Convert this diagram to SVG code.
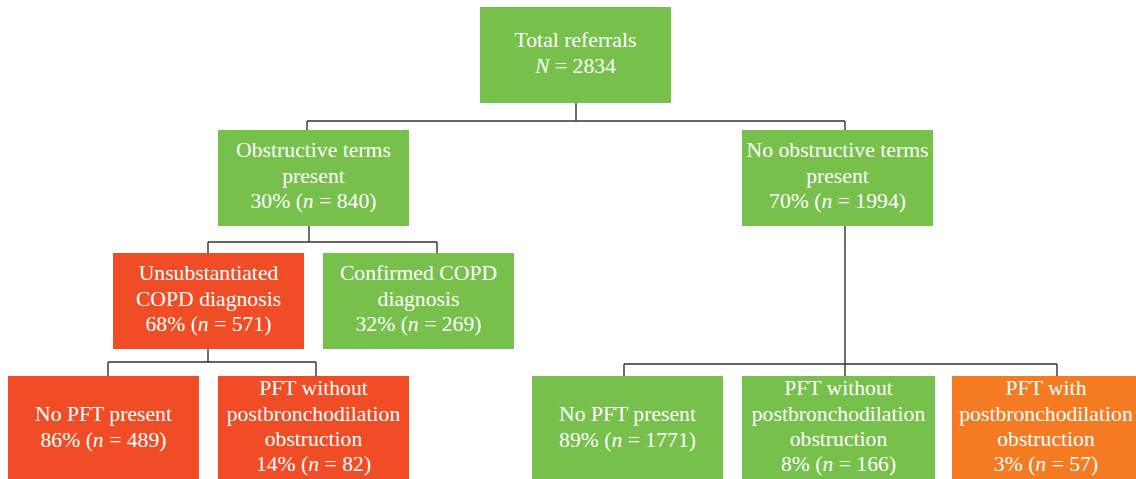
<svg xmlns="http://www.w3.org/2000/svg" width="1136" height="479" viewBox="0 0 1136 479">
<style>
.g{fill:#76c04b}
.r{fill:#f04c26}
.o{fill:#f47b22}
text{font-family:"Liberation Serif","Times New Roman",serif;font-size:21.7px;fill:#ffffff;text-anchor:middle}
.i{font-style:italic}
.c{fill:none;stroke:#333333;stroke-width:1.4}
</style>
<rect width="1136" height="479" fill="#ffffff"/>
<g id="connectors">
<path class="c" d="M576 103V121M307 121H845M307 121V130M845 121V130"/>
<path class="c" d="M309 226V242M208 242H437M208 242V253M437 242V253"/>
<path class="c" d="M208 349V362M108 362H316M108 362V376M316 362V376"/>
<path class="c" d="M845 226V376M624 364H1057M624 364V376M1057 364V376"/>
</g>
<g id="total">
<rect class="g" x="480" y="7" width="191" height="96"/>
<text x="575.5" y="47">Total referrals</text>
<text x="575.5" y="73"><tspan class="i">N</tspan> = 2834</text>
</g>
<g id="obstructive">
<rect class="g" x="218" y="130" width="191" height="96"/>
<text x="313.5" y="157">Obstructive terms</text>
<text x="313.5" y="183">present</text>
<text x="313.5" y="208">30% (<tspan class="i">n</tspan> = 840)</text>
</g>
<g id="no-obstructive">
<rect class="g" x="742" y="130" width="191" height="96"/>
<text x="837.5" y="157">No obstructive terms</text>
<text x="837.5" y="183">present</text>
<text x="837.5" y="208">70% (<tspan class="i">n</tspan> = 1994)</text>
</g>
<g id="unsubstantiated">
<rect class="r" x="113" y="253" width="191" height="96"/>
<text x="208.5" y="280">Unsubstantiated</text>
<text x="208.5" y="306">COPD diagnosis</text>
<text x="208.5" y="331">68% (<tspan class="i">n</tspan> = 571)</text>
</g>
<g id="confirmed">
<rect class="g" x="323" y="253" width="191" height="96"/>
<text x="418.5" y="280">Confirmed COPD</text>
<text x="418.5" y="306">diagnosis</text>
<text x="418.5" y="331">32% (<tspan class="i">n</tspan> = 269)</text>
</g>
<g id="left-no-pft">
<rect class="r" x="8" y="376" width="191" height="103"/>
<text x="103.5" y="421">No PFT present</text>
<text x="103.5" y="447">86% (<tspan class="i">n</tspan> = 489)</text>
</g>
<g id="left-pft-without">
<rect class="r" x="218" y="376" width="191" height="103"/>
<text x="313.5" y="395">PFT without</text>
<text x="313.5" y="421">postbronchodilation</text>
<text x="313.5" y="446">obstruction</text>
<text x="313.5" y="471">14% (<tspan class="i">n</tspan> = 82)</text>
</g>
<g id="right-no-pft">
<rect class="g" x="532" y="376" width="191" height="103"/>
<text x="627.5" y="421">No PFT present</text>
<text x="627.5" y="447">89% (<tspan class="i">n</tspan> = 1771)</text>
</g>
<g id="right-pft-without">
<rect class="g" x="742" y="376" width="193" height="103"/>
<text x="838.5" y="395">PFT without</text>
<text x="838.5" y="421">postbronchodilation</text>
<text x="838.5" y="446">obstruction</text>
<text x="838.5" y="471">8% (<tspan class="i">n</tspan> = 166)</text>
</g>
<g id="right-pft-with">
<rect class="o" x="952" y="376" width="184" height="103"/>
<text x="1046" y="395">PFT with</text>
<text x="1046" y="421">postbronchodilation</text>
<text x="1046" y="446">obstruction</text>
<text x="1046" y="471">3% (<tspan class="i">n</tspan> = 57)</text>
</g>
</svg>
